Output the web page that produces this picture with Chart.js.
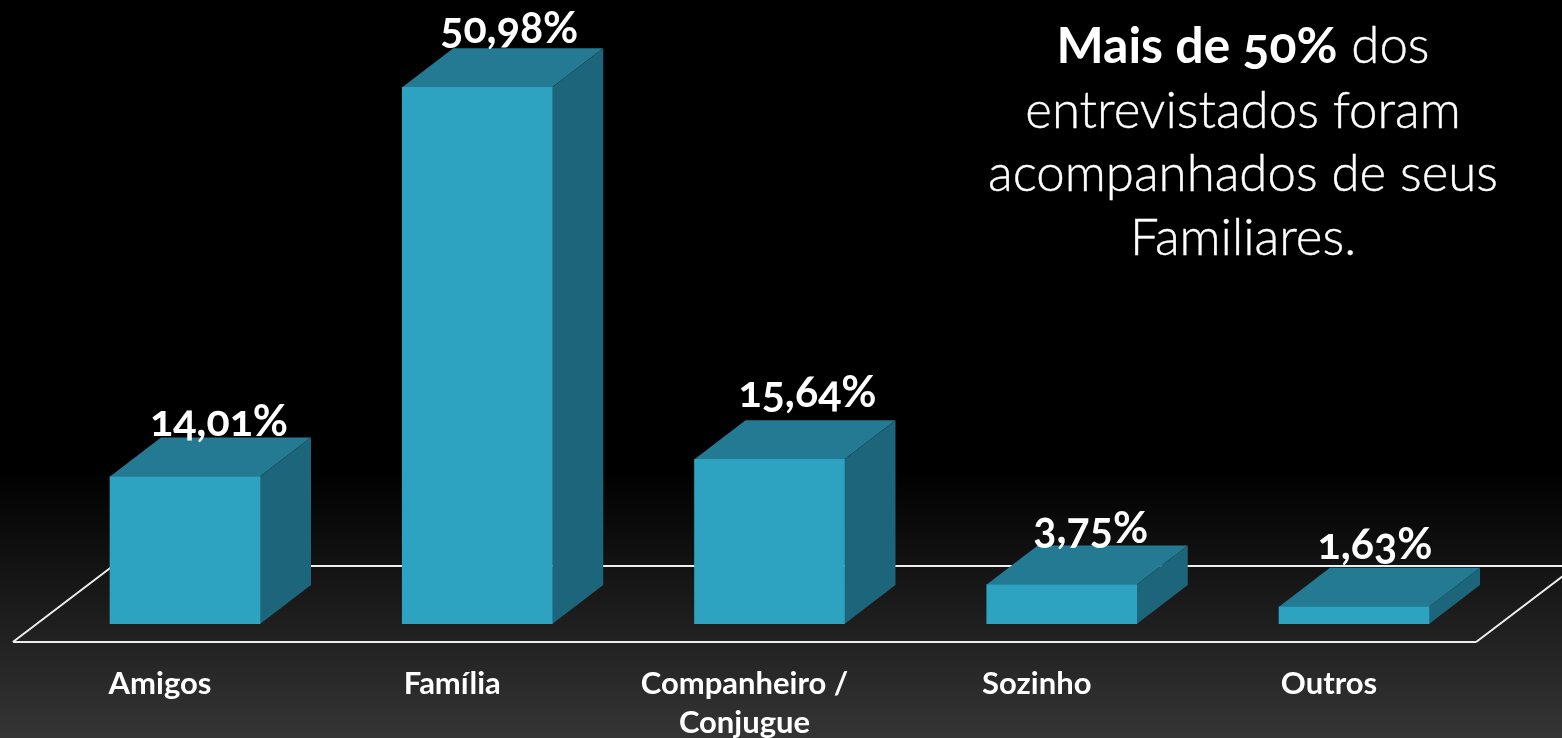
<!DOCTYPE html>
<html lang="pt">
<head>
<meta charset="utf-8">
<title>Acompanhantes</title>
<script src="https://cdn.jsdelivr.net/npm/chart.js@4/dist/chart.umd.min.js"></script>
<style>
  html, body { margin: 0; height: 100%; overflow: hidden; }
  body {
    position: relative;
    width: 1562px; height: 738px;
    background: linear-gradient(to bottom, #000 0, #000 470px, #353535 738px);
    font-family: Lato, "Open Sans", sans-serif;
    font-feature-settings: "onum" 1;
    font-variant-numeric: oldstyle-nums;
    color: #fff;
  }
  #wrap { position: absolute; left: 0; top: 0; width: 1562px; height: 738px; }
  #note {
    position: absolute; left: 943px; top: 12px; width: 600px;
    text-align: center; font-size: 51px; line-height: 63.7px; font-weight: 300;
    -webkit-text-stroke: 0.4px #fff;
  }
  #note b { font-weight: 700; font-size: 50px; -webkit-text-stroke: 0; }
  .val {
    position: absolute; font-size: 43px; line-height: 44px; font-weight: 700;
    transform: translate(-50%, 0); white-space: nowrap;
  }
</style>
</head>
<body>
<div id="wrap"><canvas id="chart" width="1562" height="738"></canvas></div>
<div id="note"><b>Mais de 50%</b> dos<br>entrevistados foram<br>acompanhados de seus<br>Familiares.</div>
<script>
const categories = ["Amigos", "Família", ["Companheiro /", "Conjugue"], "Sozinho", "Outros"];
const values = [14.01, 50.98, 15.64, 3.75, 1.63];

const DX = 51, DY = 39;
// acerto fino dos rotulos de valor, colocados a mao no original
const nudgeX = [2, 0, 6, -3, -11];
const nudgeY = [0, -3, -11, -1, -7];

// caixa 3D e piso, nao existem no Chart.js
const box3d = {
  id: "box3d",
  beforeDatasetsDraw(chart) {
    const c = chart.ctx;
    const x = chart.scales.x, y = chart.scales.y;
    const front = y.bottom + 18, back = front - 76;
    c.save();
    c.strokeStyle = "#eeeeee";
    c.lineWidth = 2;
    c.beginPath();
    c.moveTo(x.left + 74, back);
    c.lineTo(1562, back);
    c.moveTo(x.left - 26, front);
    c.lineTo(x.right - 24, front);
    c.moveTo(x.left - 26, front);
    c.lineTo(x.left + 74, back);
    c.moveTo(x.right - 24, front);
    c.lineTo(x.right + 76, back);
    c.stroke();
    chart.getDatasetMeta(0).data.forEach(bar => {
      const l = bar.x - bar.width / 2, r = bar.x + bar.width / 2;
      c.fillStyle = "#247a93";
      c.beginPath();
      c.moveTo(l, bar.y);
      c.lineTo(l + DX, bar.y - DY);
      c.lineTo(r + DX, bar.y - DY);
      c.lineTo(r, bar.y);
      c.fill();
      c.fillStyle = "#1c657a";
      c.beginPath();
      c.moveTo(r, bar.y);
      c.lineTo(r + DX, bar.y - DY);
      c.lineTo(r + DX, bar.base - DY);
      c.lineTo(r, bar.base);
      c.fill();
    });
    c.restore();
  },
  afterRender(chart) {
    document.querySelectorAll(".val").forEach(e => e.remove());
    chart.getDatasetMeta(0).data.forEach((bar, i) => {
      const d = document.createElement("div");
      d.className = "val";
      d.textContent = values[i].toFixed(2).replace(".", ",") + "%";
      d.style.left = (bar.x + 32 + nudgeX[i]) + "px";
      d.style.top = (bar.y - 79 + nudgeY[i]) + "px";
      document.body.appendChild(d);
    });
  }
};

new Chart(document.getElementById("chart"), {
  type: "bar",
  data: {
    labels: categories,
    datasets: [{ data: values, backgroundColor: "#2ea3c1", barThickness: 150 }],
  },
  options: {
    responsive: false,
    animation: false,
    layout: { padding: { left: 38.875, right: 61.875, top: 45, bottom: 0 } },
    plugins: { legend: { display: false }, tooltip: { enabled: false } },
    scales: {
      x: {
        grid: { display: false },
        border: { display: false },
        afterFit(s) { s.height = 114; },
        ticks: {
          color: "#ffffff",
          padding: 32,
          labelOffset: -25,
          maxRotation: 0,
          font: { family: "Lato", size: 31, weight: "bold", lineHeight: 1.27 },
        },
      },
      y: { display: false, min: 0, max: 55 },
    },
  },
  plugins: [box3d],
});
</script>
</body>
</html>
